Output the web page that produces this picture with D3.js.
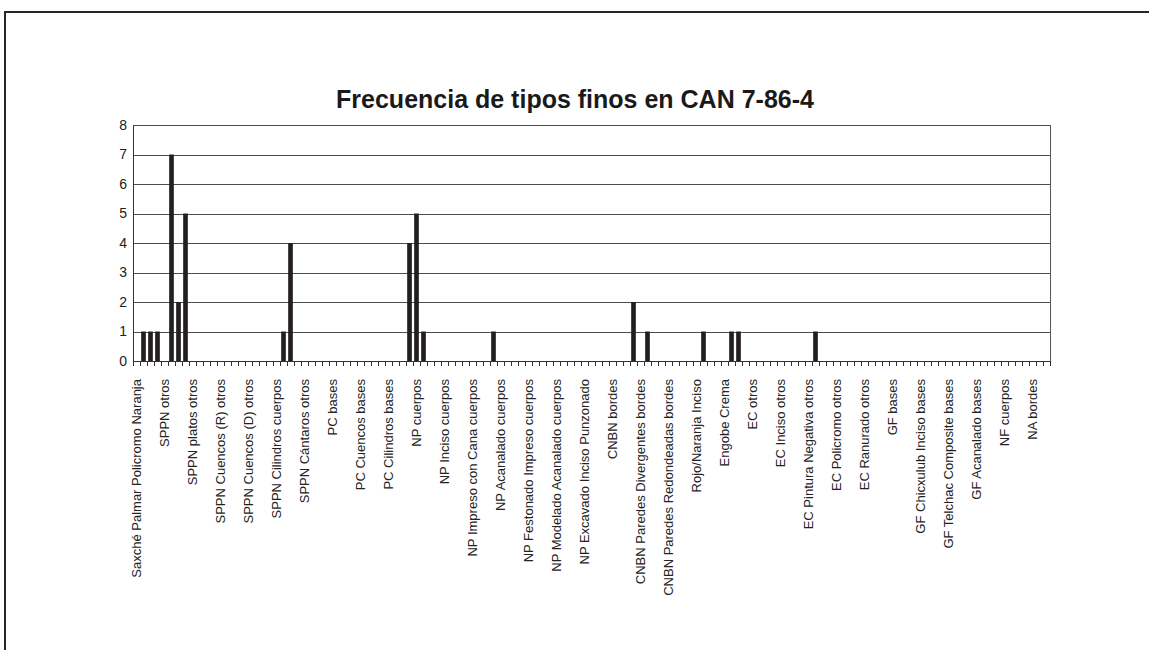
<!DOCTYPE html>
<html lang="es">
<head>
<meta charset="utf-8">
<title>Frecuencia de tipos finos en CAN 7-86-4</title>
<script src="https://cdn.jsdelivr.net/npm/d3@7"></script>
<style>
  body { margin: 0; background: #fff; }
  svg { display: block; font-family: "Liberation Sans", Arial, sans-serif; }
  .grid line { stroke: #4d4d4d; shape-rendering: crispEdges; }
  .grid path { display: none; }
  .yaxis text { font-size: 14px; fill: #222; }
  .xaxis line, .xaxis path { stroke: #333; shape-rendering: crispEdges; }
</style>
</head>
<body>
<svg width="1149" height="650"></svg>
<script>
// labelled categories (every 4th category carries a label)
var labels = [
  "Saxché Palmar Policromo Naranja", "SPPN otros", "SPPN platos otros",
  "SPPN Cuencos (R) otros", "SPPN Cuencos (D) otros", "SPPN Cilindros cuerpos",
  "SPPN Cántaros otros", "PC bases", "PC  Cuencos bases", "PC  Cilindros bases",
  "NP cuerpos", "NP Inciso cuerpos", "NP Impreso con Cana cuerpos",
  "NP Acanalado cuerpos", "NP Festonado Impreso cuerpos", "NP Modelado Acanalado cuerpos",
  "NP Excavado Inciso Punzonado", "CNBN bordes", "CNBN Paredes Divergentes bordes",
  "CNBN Paredes Redondeadas bordes", "Rojo/Naranja Inciso", "Engobe Crema",
  "EC otros", "EC Inciso otros", "EC Pintura Negativa otros", "EC Policromo otros",
  "EC Ranurado otros", "GF bases", "GF Chicxulub Inciso bases",
  "GF Telchac Composite bases", "GF Acanalado bases", "NF cuerpos", "NA bordes"
];
var labelEvery = 4;

// frequency per category (131 categories)
var values = [
  0, 1, 1, 1, 0, 7, 2, 5, 0, 0,
  0, 0, 0, 0, 0, 0, 0, 0, 0, 0,
  0, 1, 4, 0, 0, 0, 0, 0, 0, 0,
  0, 0, 0, 0, 0, 0, 0, 0, 0, 4,
  5, 1, 0, 0, 0, 0, 0, 0, 0, 0,
  0, 1, 0, 0, 0, 0, 0, 0, 0, 0,
  0, 0, 0, 0, 0, 0, 0, 0, 0, 0,
  0, 2, 0, 1, 0, 0, 0, 0, 0, 0,
  0, 1, 0, 0, 0, 1, 1, 0, 0, 0,
  0, 0, 0, 0, 0, 0, 0, 1, 0, 0,
  0, 0, 0, 0, 0, 0, 0, 0, 0, 0,
  0, 0, 0, 0, 0, 0, 0, 0, 0, 0,
  0, 0, 0, 0, 0, 0, 0, 0, 0, 0,
  0
];
var yTicks = [0, 1, 2, 3, 4, 5, 6, 7, 8];
var title = "Frecuencia de tipos finos en CAN 7-86-4";

var categories = values.map(function(d, i) {
  return i % labelEvery === 0 ? labels[i / labelEvery] : "";
});

var svg = d3.select("svg");
var plotL = 133, plotR = 1050, plotT = 125, plotB = 361;

// outer frame
svg.append("rect")
  .attr("x", 5).attr("y", 12)
  .attr("width", 1200).attr("height", 700)
  .attr("fill", "#fff")
  .attr("stroke", "#262626").attr("stroke-width", 2);

svg.append("text")
  .attr("x", 575).attr("y", 108)
  .attr("text-anchor", "middle")
  .attr("font-size", 25).attr("font-weight", "bold")
  .attr("fill", "#1a1a1a")
  .text(title);

var x = d3.scaleBand()
  .domain(d3.range(values.length))
  .range([plotL, plotR])
  .paddingInner(1 / 3)
  .paddingOuter(1 / 6);

var xEdge = d3.scaleLinear()
  .domain([0, values.length])
  .range([plotL, plotR]);

var y = d3.scaleLinear()
  .domain([0, 8])
  .range([plotB, plotT]);

// gridlines + y labels
svg.append("g")
  .attr("class", "grid yaxis")
  .attr("transform", "translate(" + plotL + ",0)")
  .call(d3.axisLeft(y).tickValues(yTicks).tickSizeInner(-(plotR - plotL)).tickSizeOuter(0).tickPadding(6))
  .call(function(g) { g.attr("font-family", null).attr("font-size", null); });

// plot border (left, right)
svg.append("line")
  .attr("x1", plotL).attr("x2", plotL).attr("y1", plotT).attr("y2", plotB)
  .attr("stroke", "#333").attr("shape-rendering", "crispEdges");
svg.append("line")
  .attr("x1", plotR).attr("x2", plotR).attr("y1", plotT).attr("y2", plotB)
  .attr("stroke", "#555").attr("shape-rendering", "crispEdges");

// bars
svg.append("g")
  .selectAll("rect")
  .data(values)
  .join("rect")
  .attr("x", function(d, i) { return x(i); })
  .attr("width", x.bandwidth())
  .attr("y", function(d) { return y(d); })
  .attr("height", function(d) { return y(0) - y(d); })
  .attr("fill", "#231f20");

// x axis ticks at category boundaries
svg.append("g")
  .attr("class", "xaxis")
  .attr("transform", "translate(0," + plotB + ")")
  .call(d3.axisBottom(xEdge).tickValues(d3.range(values.length + 1)).tickFormat("").tickSizeInner(5).tickSizeOuter(0));

// category labels
svg.append("g")
  .selectAll("text")
  .data(categories)
  .join("text")
  .filter(function(d) { return d !== ""; })
  .attr("transform", function(d, i) {
    return "translate(" + (x(i * labelEvery) + x.bandwidth() / 2) + "," + (plotB + 18) + ") rotate(-90)";
  })
  .attr("text-anchor", "end")
  .attr("dy", "0.35em")
  .attr("font-size", 13)
  .attr("fill", "#222")
  .text(function(d) { return d; });
</script>
</body>
</html>
